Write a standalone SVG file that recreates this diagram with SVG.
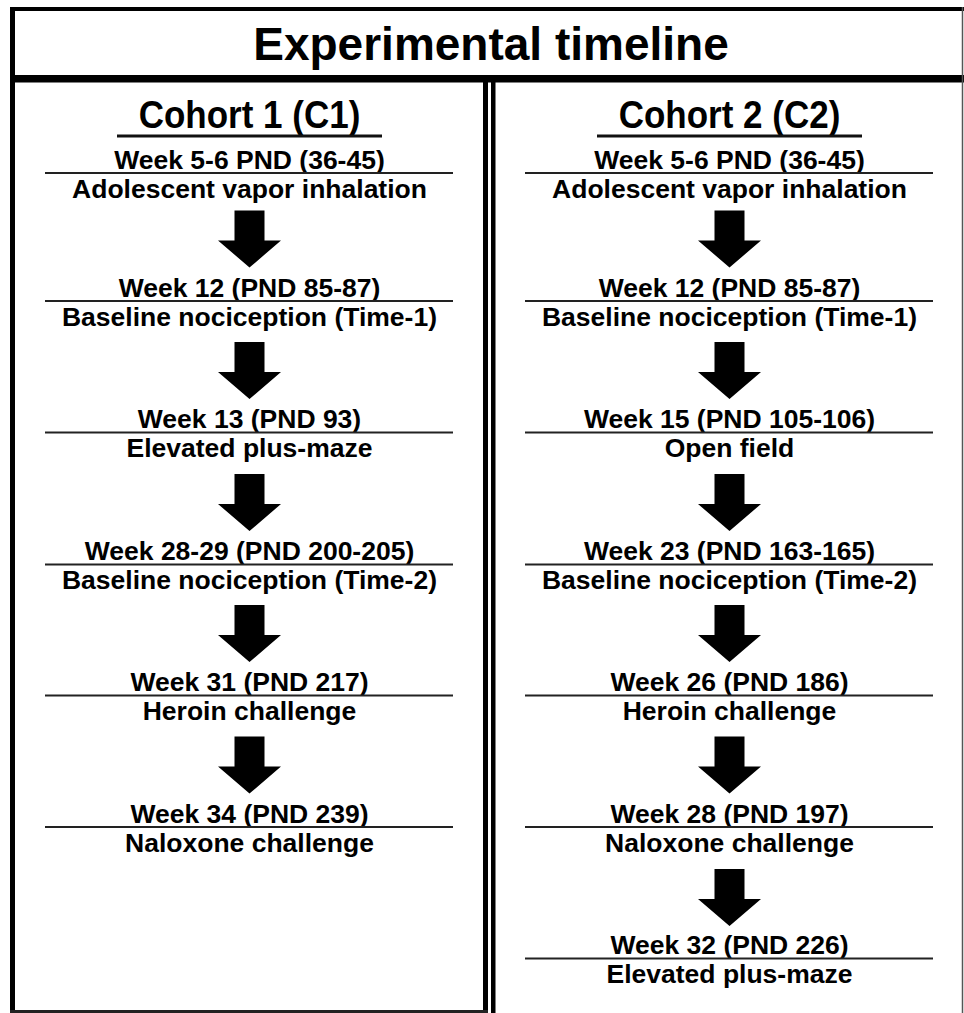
<svg xmlns="http://www.w3.org/2000/svg" xmlns:xlink="http://www.w3.org/1999/xlink" width="964" height="1013" viewBox="0 0 964 1013">
<style>
text{font-family:"Liberation Sans",Arial,sans-serif;fill:#000;text-anchor:middle}
.title{font-size:46px;font-weight:bold}
.cohort{font-size:35px;font-weight:bold}
.wk{font-size:26.5px;font-weight:bold}
.desc{font-size:26.5px;font-weight:bold}
.sep{stroke:#222;stroke-width:2;fill:none}
.ul{stroke:#111;stroke-width:3;fill:none}
.frame{fill:#000}
</style>
<defs>
<path id="arrow" d="M-15,-57 H15 V-27 H31.5 L0,0 L-31.5,-27 H-15 Z" fill="#000"/>
</defs>
<rect width="964" height="1013" fill="#fff"/>
<g id="frame">
<rect class="frame" x="10" y="7" width="954" height="4"/>
<rect class="frame" x="10" y="7" width="5" height="1006"/>
<rect class="frame" x="10" y="75" width="954" height="7.5"/>
<rect class="frame" x="483" y="80" width="5" height="933"/>
<rect class="frame" x="491" y="80" width="4.5" height="933"/>
<line x1="962.5" y1="7" x2="962.5" y2="1013" stroke="#555" stroke-width="1.5"/>
<line x1="10" y1="1011.5" x2="488" y2="1011.5" stroke="#222" stroke-width="3"/>
</g>
<g id="header"><text class="title" x="491" y="60">Experimental timeline</text></g>
<g id="c1-title"><text class="cohort" transform="translate(249.5,128) scale(1,1.1)">Cohort 1 (C1)</text><line class="ul" x1="117" y1="136" x2="382" y2="136"/></g>
<g id="c2-title"><text class="cohort" transform="translate(729.5,128) scale(1,1.1)">Cohort 2 (C2)</text><line class="ul" x1="597" y1="136" x2="862" y2="136"/></g>

<g id="c1-s1"><text class="wk" x="249.5" y="168.5">Week 5-6 PND (36-45)</text><line class="sep" x1="45" y1="173" x2="453" y2="173"/><text class="desc" x="249.5" y="197.5">Adolescent vapor inhalation</text></g>
<g id="c1-s2"><text class="wk" x="249.5" y="296.5">Week 12 (PND 85-87)</text><line class="sep" x1="45" y1="301" x2="453" y2="301"/><text class="desc" x="249.5" y="325.5">Baseline nociception (Time-1)</text></g>
<g id="c1-s3"><text class="wk" x="249.5" y="428">Week 13 (PND 93)</text><line class="sep" x1="45" y1="432.5" x2="453" y2="432.5"/><text class="desc" x="249.5" y="457">Elevated plus-maze</text></g>
<g id="c1-s4"><text class="wk" x="249.5" y="560">Week 28-29 (PND 200-205)</text><line class="sep" x1="45" y1="564.5" x2="453" y2="564.5"/><text class="desc" x="249.5" y="589">Baseline nociception (Time-2)</text></g>
<g id="c1-s5"><text class="wk" x="249.5" y="691">Week 31 (PND 217)</text><line class="sep" x1="45" y1="695.5" x2="453" y2="695.5"/><text class="desc" x="249.5" y="720">Heroin challenge</text></g>
<g id="c1-s6"><text class="wk" x="249.5" y="822.5">Week 34 (PND 239)</text><line class="sep" x1="45" y1="827" x2="453" y2="827"/><text class="desc" x="249.5" y="851.5">Naloxone challenge</text></g>

<g id="c2-s1"><text class="wk" x="729.5" y="168.5">Week 5-6 PND (36-45)</text><line class="sep" x1="525" y1="173" x2="933" y2="173"/><text class="desc" x="729.5" y="197.5">Adolescent vapor inhalation</text></g>
<g id="c2-s2"><text class="wk" x="729.5" y="296.5">Week 12 (PND 85-87)</text><line class="sep" x1="525" y1="301" x2="933" y2="301"/><text class="desc" x="729.5" y="325.5">Baseline nociception (Time-1)</text></g>
<g id="c2-s3"><text class="wk" x="729.5" y="428">Week 15 (PND 105-106)</text><line class="sep" x1="525" y1="432.5" x2="933" y2="432.5"/><text class="desc" x="729.5" y="457">Open field</text></g>
<g id="c2-s4"><text class="wk" x="729.5" y="560">Week 23 (PND 163-165)</text><line class="sep" x1="525" y1="564.5" x2="933" y2="564.5"/><text class="desc" x="729.5" y="589">Baseline nociception (Time-2)</text></g>
<g id="c2-s5"><text class="wk" x="729.5" y="691">Week 26 (PND 186)</text><line class="sep" x1="525" y1="695.5" x2="933" y2="695.5"/><text class="desc" x="729.5" y="720">Heroin challenge</text></g>
<g id="c2-s6"><text class="wk" x="729.5" y="822.5">Week 28 (PND 197)</text><line class="sep" x1="525" y1="827" x2="933" y2="827"/><text class="desc" x="729.5" y="851.5">Naloxone challenge</text></g>
<g id="c2-s7"><text class="wk" x="729.5" y="954">Week 32 (PND 226)</text><line class="sep" x1="525" y1="958.5" x2="933" y2="958.5"/><text class="desc" x="729.5" y="983">Elevated plus-maze</text></g>

<g id="connectors">
<use href="#arrow" xlink:href="#arrow" x="249.5" y="267.5"/>
<use href="#arrow" xlink:href="#arrow" x="249.5" y="399"/>
<use href="#arrow" xlink:href="#arrow" x="249.5" y="531"/>
<use href="#arrow" xlink:href="#arrow" x="249.5" y="662"/>
<use href="#arrow" xlink:href="#arrow" x="249.5" y="793.5"/>
<use href="#arrow" xlink:href="#arrow" x="729.5" y="267.5"/>
<use href="#arrow" xlink:href="#arrow" x="729.5" y="399"/>
<use href="#arrow" xlink:href="#arrow" x="729.5" y="531"/>
<use href="#arrow" xlink:href="#arrow" x="729.5" y="662"/>
<use href="#arrow" xlink:href="#arrow" x="729.5" y="793.5"/>
<use href="#arrow" xlink:href="#arrow" x="729.5" y="926"/>
</g>
</svg>
